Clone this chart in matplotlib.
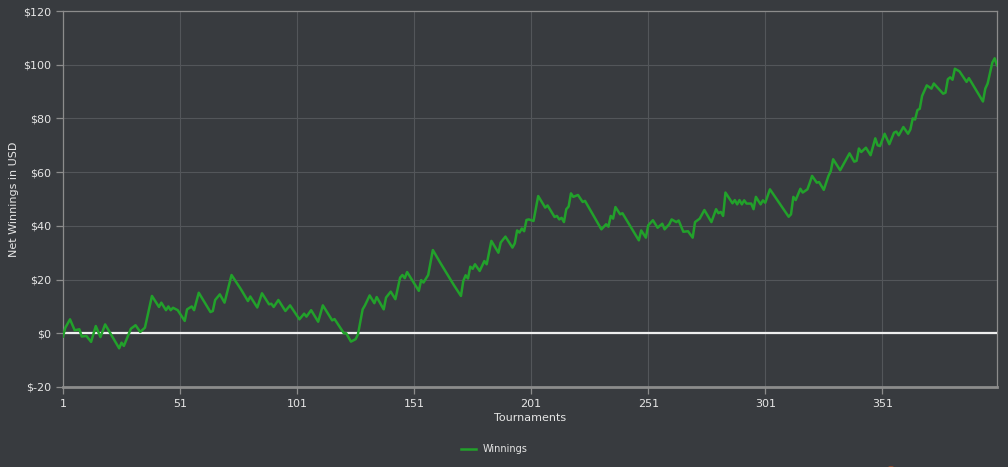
import matplotlib
matplotlib.use('Agg')
import matplotlib.pyplot as plt
from matplotlib.patches import Circle

# vertices of the winnings line
tournaments = [1, 2, 4, 6, 8, 9, 11, 13, 15, 17, 19, 25, 26, 27, 30, 32, 34, 36, 39,
               42, 43, 45, 46, 47, 48, 50, 53, 54, 56, 57, 59, 64, 65, 66, 68, 70, 73,
               77, 80, 81, 84, 86, 89, 90, 91, 93, 96, 98, 102, 104, 105, 107, 110,
               112, 116, 117, 121, 122, 124, 126, 127, 129, 130, 132, 134, 135, 138,
               139, 141, 143, 145, 146, 147, 148, 153, 154, 155, 157, 159, 162, 168,
               171, 172, 173, 174, 175, 176, 177, 179, 181, 182, 184, 187, 188, 190,
               193, 194, 195, 196, 197, 198, 199, 200, 202, 204, 207, 208, 211, 212,
               213, 214, 215, 216, 217, 218, 219, 221, 223, 224, 231, 233, 234, 235,
               236, 237, 239, 240, 247, 248, 250, 251, 253, 255, 257, 258, 260, 261,
               263, 264, 266, 268, 270, 271, 273, 275, 278, 280, 281, 282, 283, 284,
               287, 288, 289, 290, 291, 292, 293, 295, 296, 297, 299, 300, 301, 303,
               311, 312, 313, 314, 316, 317, 319, 320, 321, 323, 324, 326, 328, 329,
               330, 333, 337, 339, 340, 341, 342, 344, 346, 348, 349, 350, 352, 354,
               356, 357, 358, 360, 362, 363, 364, 365, 366, 367, 368, 370, 372, 373,
               377, 378, 379, 380, 381, 382, 384, 387, 388, 394, 395, 396, 398, 399, 400]
winnings = [-1.2, 2.1, 5.2, 1.1, 1.5, -1.2, -1.0, -3.2, 2.7, -1.4, 3.3, -5.6, -3.5, -4.7, 1.7, 3.0, 0.5, 2.1, 13.9,
            9.8, 11.4, 8.6, 10.0, 8.6, 9.5, 8.6, 4.6, 8.9, 10.0, 8.6, 15.1, 7.9, 8.3, 12.4, 14.5, 11.4, 21.7,
            16.4, 12.0, 13.7, 9.6, 14.9, 10.8, 11.0, 9.8, 12.4, 8.3, 10.4, 5.2, 7.3, 6.2, 8.6, 4.3,
            10.4, 4.8, 5.3, 0.0, 0.0, -3.1, -2.2, -0.4, 8.9, 10.4, 14.1, 11.2, 13.5, 8.9,
            13.3, 15.5, 12.7, 20.7, 21.7, 20.5, 22.8, 15.8, 19.8, 18.9, 21.7, 31.0, 26.5, 17.9,
            13.9, 19.5, 21.6, 20.4, 24.8, 24.0, 25.7, 23.2, 26.9, 25.7, 34.4, 30.0, 33.8, 36.0,
            31.9, 33.5, 38.3, 37.5, 39.0, 38.0, 42.2, 42.4, 41.8, 51.1, 46.8, 47.6, 43.3, 43.7,
            42.4, 43.0, 41.4, 46.2, 47.2, 52.1, 50.8, 51.5, 48.9, 49.3, 38.7, 40.6, 39.7, 43.7,
            42.7, 47.0, 44.3, 44.7, 34.6, 38.3, 35.6, 40.2, 42.1, 39.3, 40.8, 38.7, 40.6, 42.4,
            41.4, 42.0, 37.8, 38.0, 35.6, 41.4, 42.7, 45.9, 41.4, 46.2, 44.7, 45.2, 43.7, 52.4,
            48.4, 49.6, 48.0, 49.6, 48.0, 49.5, 48.3, 48.3, 46.2, 50.8, 48.0, 49.5, 48.6, 53.6,
            43.4, 44.3, 50.8, 49.6, 53.8, 52.4, 53.6, 56.0, 58.6, 56.1, 56.3, 53.4, 58.6, 60.4,
            64.8, 60.7, 67.0, 63.9, 64.2, 68.8, 67.5, 69.1, 66.3, 72.6, 70.0, 69.7, 74.3, 70.4,
            74.7, 75.1, 73.7, 76.8, 74.3, 75.9, 80.0, 79.6, 83.1, 83.6, 88.4, 92.3, 91.1, 93.0,
            89.2, 89.6, 94.6, 95.3, 94.4, 98.5, 97.5, 93.6, 95.0, 86.3, 91.1, 93.0, 100.8, 102.4, 99.8]

x_ticks = [1, 51, 101, 151, 201, 251, 301, 351]
y_ticks = [-20, 0, 20, 40, 60, 80, 100, 120]

bg = '#383b3f'
txt = '#e6e6e6'

fig = plt.figure(figsize=(10.08, 4.67), dpi=100, facecolor=bg)
ax = fig.add_axes([63 / 1008, 1 - 387 / 467, (997 - 63) / 1008, (387 - 11) / 467])
ax.set_facecolor(bg)

line, = ax.plot(tournaments, winnings, color='#22a12b', lw=1.8, zorder=4,
                solid_joinstyle='round')
ax.axhline(0, color='#eeeeee', lw=1.6, zorder=3)

ax.set_xlim(1, 400)
ax.set_ylim(-20, 120)
ax.set_xticks(x_ticks)
ax.set_yticks(y_ticks)
ax.set_yticklabels(['$%d' % v for v in y_ticks])
ax.grid(True, color='#53565a', lw=0.8, zorder=1)

for s in ['top', 'right', 'left']:
    ax.spines[s].set_color('#8c8c8c')
    ax.spines[s].set_linewidth(0.9)
ax.spines['bottom'].set_color('#8c8c8c')
ax.spines['bottom'].set_linewidth(2)

ax.tick_params(colors='#8c8c8c', labelcolor=txt, labelsize=8, length=5, width=0.9)

ax.set_xlabel('Tournaments', color=txt, fontsize=8, labelpad=3)
ax.set_ylabel('Net Winnings in USD', color=txt, fontsize=8)
ax.yaxis.set_label_coords(-0.047, 0.5)

leg = fig.legend([line], ['Winnings'], loc='center', bbox_to_anchor=(494 / 1008, 1 - 449 / 467),
                 frameon=False, fontsize=7, handlelength=1.6, handletextpad=0.6)
for t in leg.get_texts():
    t.set_color(txt)

# partly hidden "powered by" badge at the bottom edge
fig.patches.append(Circle((891 / 1008, -2 / 467), 4 / 1008, transform=fig.transFigure,
                          color='#d9541e', zorder=5))

fig.savefig('out.png', dpi=100, facecolor=bg)
